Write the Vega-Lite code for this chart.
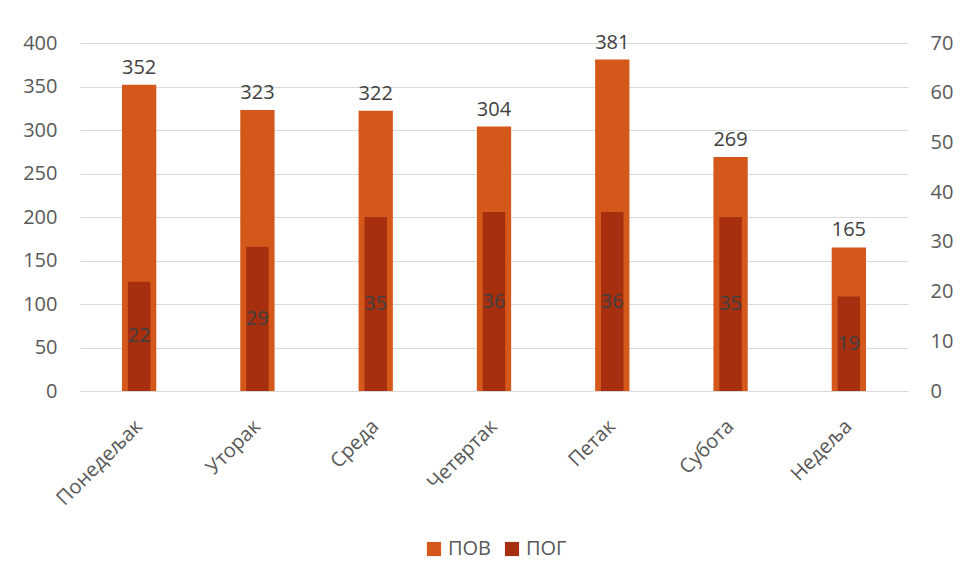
{
  "$schema": "https://vega.github.io/schema/vega-lite/v6.json",
  "width": 828,
  "height": 348,
  "autosize": {"type": "none"},
  "padding": {"left": 80, "top": 43, "right": 60, "bottom": 188},
  "background": "white",
  "config": {
    "font": "Open Sans",
    "view": {"stroke": null},
    "axis": {"labelColor": "#595959", "labelFontSize": 20, "gridColor": "#D9D9D9", "gridWidth": 1.2, "ticks": false, "domain": false, "title": null}
  },
  "data": {
    "values": [
      {"day": "Понедељак", "ПОВ": 352, "ПОГ": 22},
      {"day": "Уторак", "ПОВ": 323, "ПОГ": 29},
      {"day": "Среда", "ПОВ": 322, "ПОГ": 35},
      {"day": "Четвртак", "ПОВ": 304, "ПОГ": 36},
      {"day": "Петак", "ПОВ": 381, "ПОГ": 36},
      {"day": "Субота", "ПОВ": 269, "ПОГ": 35},
      {"day": "Недеља", "ПОВ": 165, "ПОГ": 19}
    ]
  },
  "encoding": {
    "x": {
      "field": "day",
      "type": "nominal",
      "sort": null,
      "scale": {"paddingInner": 0, "paddingOuter": 0},
      "axis": {"labelAngle": -45, "labelAlign": "right", "labelBaseline": "middle", "labelPadding": 32, "labelFontSize": 20}
    }
  },
  "layer": [
    {
      "layer": [
        {
          "mark": {"type": "bar", "width": {"band": 0.29}},
          "encoding": {
            "y": {
              "field": "ПОВ",
              "type": "quantitative",
              "scale": {"domain": [0, 400]},
              "axis": {"orient": "left", "values": [0, 50, 100, 150, 200, 250, 300, 350, 400], "grid": true, "labelPadding": 23}
            },
            "color": {
              "datum": "ПОВ",
              "type": "nominal",
              "scale": {"domain": ["ПОВ", "ПОГ"], "range": ["#D4581A", "#A62F10"]},
              "legend": {"title": null, "orient": "none", "legendX": 344, "legendY": 496, "direction": "horizontal", "symbolType": "square", "symbolSize": 200, "symbolStrokeWidth": 0, "labelFontSize": 20, "labelColor": "#595959", "labelOffset": 4, "columnPadding": 10}
            }
          }
        },
        {
          "mark": {"type": "text", "baseline": "alphabetic", "dy": -11, "fontSize": 20, "color": "#404040"},
          "encoding": {
            "y": {"field": "ПОВ", "type": "quantitative"},
            "text": {"field": "ПОВ", "type": "quantitative"}
          }
        }
      ]
    },
    {
      "mark": {"type": "bar", "width": {"band": 0.19}},
      "encoding": {
        "y": {
          "field": "ПОГ",
          "type": "quantitative",
          "scale": {"domain": [0, 70]},
          "axis": {"orient": "right", "values": [0, 10, 20, 30, 40, 50, 60, 70], "grid": false, "labelPadding": 22}
        },
        "color": {"datum": "ПОГ", "type": "nominal"}
      }
    },
    {
      "mark": {"type": "text", "baseline": "middle", "fontSize": 20, "color": "#404040"},
      "encoding": {
        "y": {"field": "ПОГ", "type": "quantitative", "scale": {"domain": [0, 140]}, "axis": null},
        "text": {"field": "ПОГ", "type": "quantitative"}
      }
    }
  ],
  "resolve": {"scale": {"y": "independent"}, "axis": {"y": "independent"}}
}
